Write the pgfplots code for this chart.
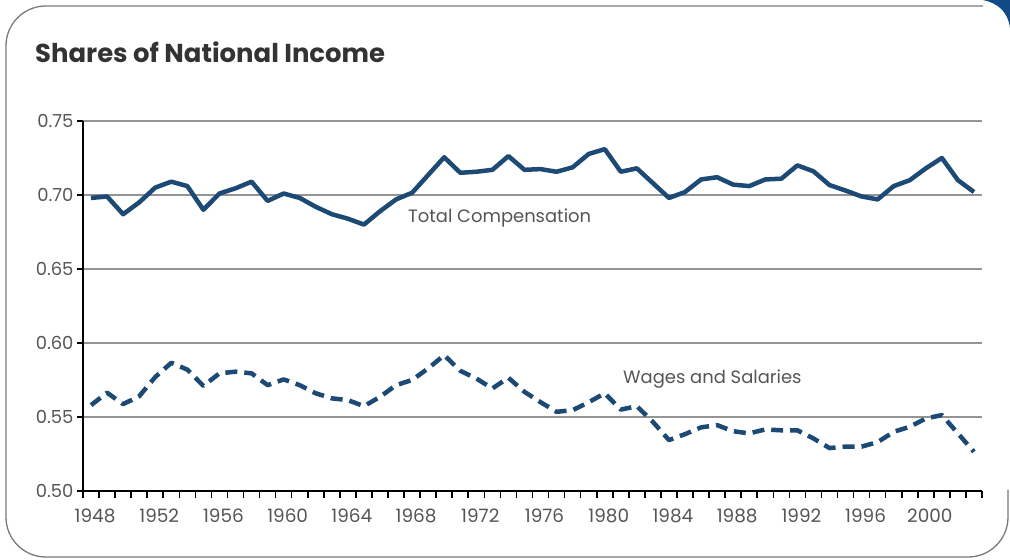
\documentclass[border=0pt]{standalone}
\usepackage{pgfplots}
\pgfplotsset{compat=1.18}
\usepackage{fontspec}
\setmainfont{Poppins}
\definecolor{serie}{HTML}{1C4A74}
\definecolor{lbl}{HTML}{555555}
\definecolor{corner}{HTML}{124A88}
\definecolor{frame}{HTML}{7A7A7A}
\begin{document}
\begin{tikzpicture}[x=1bp,y=1bp]
\useasboundingbox (0,0) rectangle (1010,560);
\fill[white] (0,0) rectangle (1010,560);
\fill[corner] (983,560) .. controls (998,557) and (1008,548) .. (1010,532) -- (1010,560) -- cycle;
\draw[frame, line width=1.3bp, rounded corners=40] (1008,70) -- (1008,3) -- (6,3) -- (6,554) -- (983,554);
\node[anchor=base west, inner sep=0pt, text=black!80, font=\fontsize{26}{26}\selectfont\bfseries] at (35,497) {Shares of National Income};
\begin{axis}[at={(83bp,69bp)}, anchor=south west, scale only axis,
  width=899bp, height=370bp,
  xmin=1947.5, xmax=2003.5, ymin=0.5, ymax=0.75,
  axis x line=bottom, axis y line=left,
  axis line style={-, line width=2.4bp, black},
  xtick={1948,1952,...,2000},
  minor xtick={1947.5,1948.5,...,2003.5},
  major x tick style={draw=none},
  minor x tick style={black, line width=1.6bp},
  ytick={0.50,0.55,0.60,0.65,0.70,0.75},
  major y tick style={black, line width=1.6bp},
  tick align=outside, major tick length=6bp, minor tick length=7bp,
  ymajorgrids, grid style={black!42, line width=1.1bp},
  /pgf/number format/assume math mode=true,
  xticklabel style={/pgf/number format/1000 sep={}, font=\fontsize{18.5}{18.5}\selectfont, text=lbl, yshift=-8bp, xshift=4bp},
  yticklabel style={/pgf/number format/.cd, fixed, fixed zerofill, precision=2, /tikz/.cd, font=\fontsize{18}{18}\selectfont, text=lbl},
  clip=false,
]
\addplot[serie, line width=4.5bp, line join=round] coordinates {
(1948,0.698) (1949,0.699) (1950,0.687) (1951,0.695) (1952,0.705) (1953,0.709)
(1954,0.706) (1955,0.690) (1956,0.701) (1957,0.7045) (1958,0.709) (1959,0.696)
(1960,0.701) (1961,0.698) (1962,0.692) (1963,0.687) (1964,0.684) (1965,0.680)
(1966,0.689) (1967,0.697) (1968,0.7015) (1969,0.7135) (1970,0.7255) (1971,0.715)
(1972,0.7157) (1973,0.717) (1974,0.7263) (1975,0.717) (1976,0.7175) (1977,0.7157)
(1978,0.7187) (1979,0.7277) (1980,0.731) (1981,0.7157) (1982,0.718) (1983,0.708)
(1984,0.698) (1985,0.702) (1986,0.7105) (1987,0.712) (1988,0.707) (1989,0.706)
(1990,0.7105) (1991,0.711) (1992,0.720) (1993,0.716) (1994,0.7067) (1995,0.703)
(1996,0.699) (1997,0.697) (1998,0.706) (1999,0.710) (2000,0.718) (2001,0.725)
(2002,0.710) (2003,0.702)
};
\addplot[serie, line width=4.5bp, line join=round, dash pattern=on 12bp off 7bp] coordinates {
(1948,0.558) (1949,0.5664) (1950,0.5587) (1951,0.564) (1952,0.577) (1953,0.5866)
(1954,0.582) (1955,0.571) (1956,0.5795) (1957,0.5806) (1958,0.5795) (1959,0.5715)
(1960,0.5754) (1961,0.5715) (1962,0.566) (1963,0.5626) (1964,0.5614) (1965,0.5573)
(1966,0.5636) (1967,0.5715) (1968,0.575) (1969,0.5828) (1970,0.5918) (1971,0.5812)
(1972,0.576) (1973,0.5693) (1974,0.5765) (1975,0.567) (1976,0.560) (1977,0.5535)
(1978,0.5546) (1979,0.560) (1980,0.566) (1981,0.555) (1982,0.5573) (1983,0.5467)
(1984,0.5344) (1985,0.5384) (1986,0.543) (1987,0.5445) (1988,0.5404) (1989,0.5389)
(1990,0.5416) (1991,0.541) (1992,0.541) (1993,0.5355) (1994,0.529) (1995,0.530)
(1996,0.530) (1997,0.533) (1998,0.540) (1999,0.5434) (2000,0.549) (2001,0.5513)
(2002,0.5389) (2003,0.5265)
};
\end{axis}
\node[anchor=west, inner sep=0pt, text=lbl, font=\fontsize{18}{18}\selectfont] at (408,342) {Total Compensation};
\node[anchor=west, inner sep=0pt, text=lbl, font=\fontsize{18}{18}\selectfont] at (623,181) {Wages and Salaries};
\end{tikzpicture}
\end{document}
